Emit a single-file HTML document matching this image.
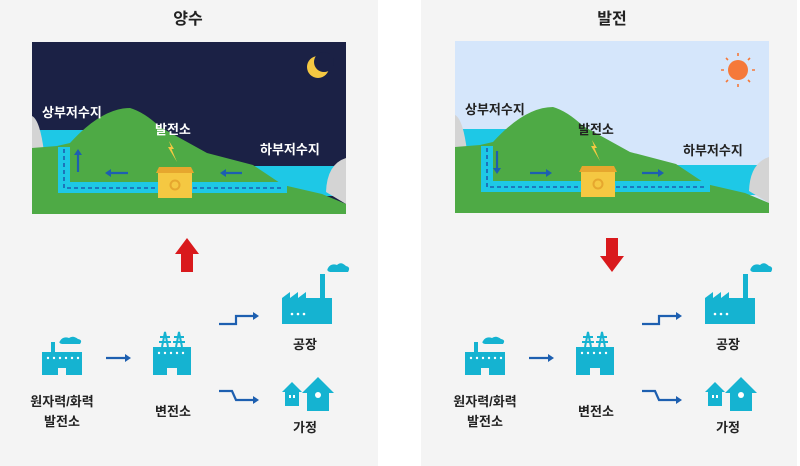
<!DOCTYPE html>
<html><head><meta charset="utf-8"><style>
html,body{margin:0;padding:0;background:#fff;}
svg{display:block;}
text{font-family:"Liberation Sans","Noto Sans CJK KR",sans-serif;font-weight:bold;}
</style></head><body>
<svg width="800" height="466" viewBox="0 0 800 466" xmlns="http://www.w3.org/2000/svg">
<defs>
<g id="land">
  <rect x="0" y="88" width="70" height="22" fill="#1ec8e6"/>
  <rect x="200" y="124" width="114" height="30" fill="#1ec8e6"/>
  <path d="M0 74 Q8 78 12 110 L0 110 Z" fill="#d4d4d4"/>
  <path d="M314 116 Q295 122 294 150 L314 162 Z" fill="#d4d4d4"/>
  <path d="M0 106 L25 104 L38 101 Q70 66 98 66 Q112 70 128 85 L175 111 L221 123 L251 143 L290 152 L314 162 L314 172 L0 172 Z" fill="#4eaa45"/>
  <path d="M26 105 L38 105 L38 140 L255 140 L255 151 L26 151 Z" fill="#1ec8e6"/>
  <path d="M32 107 L32 146 L252 146" fill="none" stroke="#1d5fb0" stroke-width="1.6" stroke-dasharray="4 3"/>
  <rect x="126" y="131" width="34" height="25" fill="#f5c842"/>
  <path d="M124 131 L127 125 L159 125 L162 131 Z" fill="#e6a72e"/>
  <circle cx="143" cy="143" r="4.5" fill="none" stroke="#e6a72e" stroke-width="2"/>
  <path d="M137 99 L142 107 L139.5 107 L145 120 L136 105 L139 105 Z" fill="#f5c842"/>
</g>
<g id="fac">
  <path d="M0 14 L40 14 L40 37 L24 37 L24 30 L16 30 L16 37 L0 37 Z" fill="#15b3d1"/>
  <rect x="9" y="4" width="4" height="10" fill="#15b3d1"/>
  <path d="M18 3 Q21 -2 27 0 Q31 -3 36 1 Q41 2 38 6 L20 6 Q16 5 18 3 Z" fill="#15b3d1"/>
  <g fill="#fff"><circle cx="6" cy="20" r="1.2"/><circle cx="12" cy="20" r="1.2"/><circle cx="18" cy="20" r="1.2"/><circle cx="24" cy="20" r="1.2"/><circle cx="30" cy="20" r="1.2"/><circle cx="36" cy="20" r="1.2"/></g>
</g>
<g id="sub">
  <path d="M0 17 L38 17 L38 45 L24 45 L24 38 L14 38 L14 45 L0 45 Z" fill="#15b3d1"/>
  <g fill="none" stroke="#15b3d1" stroke-width="2"><path d="M9 17 L12 2 L15 17 M7 7 L17 7 M6 12 L18 12"/><path d="M23 17 L26 2 L29 17 M21 7 L31 7 M20 12 L32 12"/></g>
  <g fill="#fff"><circle cx="6" cy="23" r="1.2"/><circle cx="12" cy="23" r="1.2"/><circle cx="18" cy="23" r="1.2"/><circle cx="24" cy="23" r="1.2"/><circle cx="30" cy="23" r="1.2"/></g>
</g>
<g id="bfac">
  <path d="M0 12 L8 6 L8 12 L16 6 L16 12 L24 6 L24 12 L38 12 L38 -12 L43 -12 L43 12 L50 12 L50 38 L0 38 Z" fill="#15b3d1"/>
  <path d="M46 -18 Q49 -23 55 -21 Q59 -25 64 -20 Q69 -19 66 -14 L48 -14 Q44 -15 46 -18 Z" fill="#15b3d1"/>
  <g fill="#fff"><circle cx="10" cy="28" r="1.3"/><circle cx="16" cy="28" r="1.3"/><circle cx="22" cy="28" r="1.3"/></g>
</g>
<g id="house">
  <path d="M0 11 L10 1 L20 11 L17 11 L17 25 L3 25 L3 11 Z" fill="#15b3d1"/>
  <path d="M20 12 L36 -4 L52 12 L47 12 L47 30 L25 30 L25 12 Z" fill="#15b3d1"/>
  <circle cx="36" cy="14" r="3" fill="#fff"/>
  <rect x="7" y="14" width="2" height="3" fill="#fff"/><rect x="11" y="14" width="2" height="3" fill="#fff"/>
</g>
<g id="bottom">
  <use href="#fac" x="42" y="338"/>
  <text x="62" y="406" font-size="13" text-anchor="middle" fill="#222">원자력/화력</text>
  <text x="62" y="426" font-size="13" text-anchor="middle" fill="#222">발전소</text>
  <path d="M106 358 L126 358" stroke="#1d5fb0" stroke-width="2.2"/><path d="M125 354 L131 358 L125 362 Z" fill="#1d5fb0"/>
  <use href="#sub" x="153" y="330"/>
  <text x="173" y="416" font-size="13" text-anchor="middle" fill="#222">변전소</text>
  <path d="M219 324 L236 324 L236 316 L254 316" fill="none" stroke="#1d5fb0" stroke-width="2.2"/><path d="M253 312 L259 316 L253 320 Z" fill="#1d5fb0"/>
  <path d="M219 391 L232 391 L236 400 L254 400" fill="none" stroke="#1d5fb0" stroke-width="2.2"/><path d="M253 396 L259 400 L253 404 Z" fill="#1d5fb0"/>
  <use href="#bfac" x="282" y="286"/>
  <text x="305" y="349" font-size="13" text-anchor="middle" fill="#222">공장</text>
  <use href="#house" x="282" y="381"/>
  <text x="305" y="432" font-size="13" text-anchor="middle" fill="#222">가정</text>
</g>
</defs>
<rect x="0" y="0" width="378" height="466" fill="#f4f4f4"/>
<rect x="421" y="0" width="376" height="466" fill="#f4f4f4"/>
<text x="188" y="24" font-size="16" text-anchor="middle" fill="#222">양수</text>
<text x="612" y="24" font-size="16" text-anchor="middle" fill="#222">발전</text>
<svg x="32" y="42" width="314" height="172" viewBox="0 0 314 172">
  <rect width="314" height="172" fill="#1b2145"/>
  <use href="#land"/>
  <circle cx="286" cy="25" r="11" fill="#f5c842"/><circle cx="292" cy="20" r="10" fill="#1b2145"/>
  <path d="M46 130 L46 112" stroke="#1d5fb0" stroke-width="2.2"/><path d="M42 113 L46 107 L50 113 Z" fill="#1d5fb0"/>
  <path d="M96 131 L78 131" stroke="#1d5fb0" stroke-width="2.2"/><path d="M79 127 L73 131 L79 135 Z" fill="#1d5fb0"/>
  <path d="M210 131 L193 131" stroke="#1d5fb0" stroke-width="2.2"/><path d="M194 127 L188 131 L194 135 Z" fill="#1d5fb0"/>
  <text x="10" y="75" font-size="13" fill="#fff">상부저수지</text>
  <text x="123" y="92" font-size="13" fill="#fff">발전소</text>
  <text x="228" y="112" font-size="13" fill="#fff">하부저수지</text>
</svg>
<svg x="455" y="41" width="314" height="172" viewBox="0 0 314 172">
  <rect width="314" height="172" fill="#d5e6fb"/>
  <use href="#land"/>
  <circle cx="283" cy="29" r="10" fill="#f5793a"/>
  <g stroke="#f5793a" stroke-width="1.6"><path d="M283 12 L283 15 M283 43 L283 46 M266 29 L269 29 M297 29 L300 29 M271 17 L273 19 M293 39 L295 41 M295 17 L293 19 M271 41 L273 39"/></g>
  <path d="M42 110 L42 128" stroke="#1d5fb0" stroke-width="2.2"/><path d="M38 127 L42 133 L46 127 Z" fill="#1d5fb0"/>
  <path d="M75 132 L92 132" stroke="#1d5fb0" stroke-width="2.2"/><path d="M91 128 L97 132 L91 136 Z" fill="#1d5fb0"/>
  <path d="M187 132 L204 132" stroke="#1d5fb0" stroke-width="2.2"/><path d="M203 128 L209 132 L203 136 Z" fill="#1d5fb0"/>
  <text x="10" y="73" font-size="13" fill="#222">상부저수지</text>
  <text x="123" y="93" font-size="13" fill="#222">발전소</text>
  <text x="228" y="114" font-size="13" fill="#222">하부저수지</text>
</svg>
<path d="M181 272 L181 254 L175 254 L187 238 L199 254 L193 254 L193 272 Z" fill="#d9191c"/>
<path d="M606 238 L606 256 L600 256 L612 272 L624 256 L618 256 L618 238 Z" fill="#d9191c"/>
<use href="#bottom"/>
<use href="#bottom" x="423" y="0"/>
</svg>
</body></html>
